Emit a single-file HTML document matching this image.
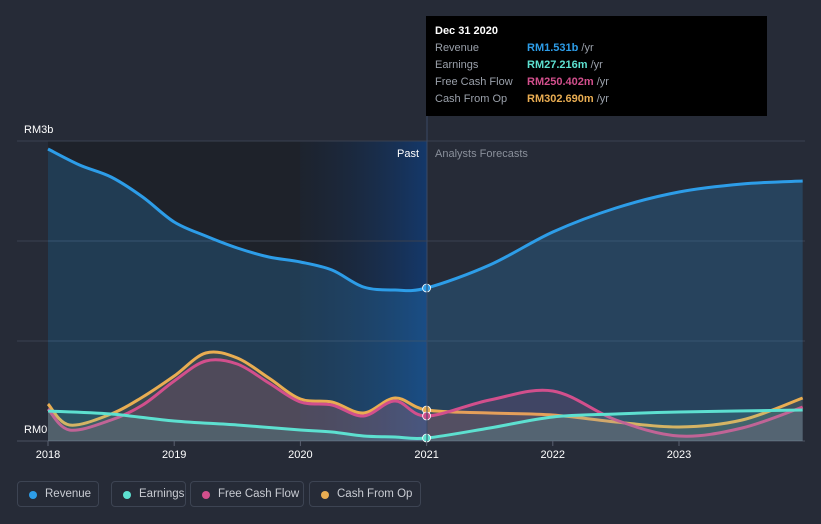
<!DOCTYPE html>
<html><head><meta charset="utf-8"><style>
body{margin:0;width:821px;height:524px;background:#262b37;font-family:"Liberation Sans",sans-serif;overflow:hidden;position:relative}
svg{position:absolute;left:0;top:0}
.leg{position:absolute;top:481px;height:26px;border:1px solid #3d4453;border-radius:4px;color:#c9ccd3;font-size:11.5px;line-height:25px;box-sizing:border-box;padding-left:27px;white-space:nowrap}
.leg i{position:absolute;left:11px;top:9px;width:8px;height:8px;border-radius:50%}
.tip{position:absolute;left:426px;top:16px;width:341px;height:100px;background:#000;color:#fff;font-size:11px}
.tip div{position:absolute;left:9px;white-space:nowrap;width:320px}
.tip span{position:absolute;left:92px;top:0;font-weight:bold;white-space:nowrap}
.tip em{font-style:normal;color:#9aa0aa;font-weight:normal}
</style></head><body>
<svg width="821" height="524" id="chart">
<defs>
<linearGradient id="pastg" x1="0" x2="1" y1="0" y2="0"><stop offset="0" stop-color="#1b2638" stop-opacity="0.3"/><stop offset="1" stop-color="#14386a"/></linearGradient>
</defs>
<rect x="48" y="141" width="379" height="300" fill="#1e222a"/>
<rect x="300" y="141" width="127" height="300" fill="url(#pastg)"/>
<g id="grid"></g>
<g id="series"></g>
<text x="24" y="133" fill="#fff" font-size="11">RM3b</text>
<text x="24" y="433" fill="#fff" font-size="11">RM0</text>
<text x="419" y="157" fill="#fff" font-size="11" text-anchor="end">Past</text>
<text x="435" y="157" fill="#8a909b" font-size="11">Analysts Forecasts</text>
<line x1="427" x2="427" y1="116" y2="441" stroke="#3a4a66" stroke-width="1"/>
<g id="xaxis"></g>
</svg>
<div class="tip">
<div style="top:9px;font-weight:bold">Dec 31 2020</div>
<div style="top:26px;color:#9aa0aa">Revenue<span style="color:#2d9de8">RM1.531b <em>/yr</em></span></div>
<div style="top:43px;color:#9aa0aa">Earnings<span style="color:#5de0d0">RM27.216m <em>/yr</em></span></div>
<div style="top:60px;color:#9aa0aa">Free Cash Flow<span style="color:#d24f8c">RM250.402m <em>/yr</em></span></div>
<div style="top:77px;color:#9aa0aa">Cash From Op<span style="color:#e9ad52">RM302.690m <em>/yr</em></span></div>
</div>
<div class="leg" style="left:17px;width:82px"><i style="background:#2d9de8"></i>Revenue</div>
<div class="leg" style="left:111px;width:75px"><i style="background:#5de0d0"></i>Earnings</div>
<div class="leg" style="left:190px;width:114px"><i style="background:#d24f8c"></i>Free Cash Flow</div>
<div class="leg" style="left:309px;width:112px"><i style="background:#e9ad52"></i>Cash From Op</div>
<script>
const xTicks=[2018,2019,2020,2021,2022,2023];
const yTicks=[0,1,2,3];
const revYears=[2018,2018.25,2018.5,2018.75,2019,2019.25,2019.5,2019.75,2020,2020.25,2020.5,2020.75,2021,2021.5,2022,2022.5,2023,2023.5,2023.98];
const revenue=[2.92,2.76,2.64,2.44,2.19,2.05,1.93,1.84,1.79,1.71,1.54,1.51,1.53,1.76,2.09,2.33,2.49,2.57,2.60];
const earnYears=[2018,2018.5,2019,2019.5,2020,2020.25,2020.5,2020.75,2021,2021.5,2022,2022.5,2023,2023.98];
const earnings=[0.30,0.27,0.20,0.16,0.11,0.09,0.05,0.04,0.03,0.13,0.24,0.27,0.29,0.31];
const cfYears=[2018,2018.17,2018.5,2018.75,2019,2019.25,2019.5,2019.75,2020,2020.25,2020.5,2020.75,2021,2021.5,2022,2022.5,2023,2023.5,2023.98];
const fcf=[0.32,0.11,0.21,0.36,0.60,0.80,0.77,0.58,0.39,0.36,0.25,0.40,0.25,0.41,0.50,0.21,0.05,0.13,0.34];
const cfo=[0.37,0.16,0.27,0.44,0.65,0.88,0.83,0.63,0.42,0.39,0.28,0.43,0.31,0.28,0.26,0.19,0.14,0.21,0.43];
const X=y=>48+(y-2018)*126.2, Y=v=>441-v*100;
const NS='http://www.w3.org/2000/svg';
function mk(t,a,p){const e=document.createElementNS(NS,t);for(const k in a)e.setAttribute(k,a[k]);p.appendChild(e);return e;}
const grid=document.getElementById('grid'),ser=document.getElementById('series'),xa=document.getElementById('xaxis');
yTicks.forEach(v=>{const l=mk('line',{x1:17,x2:805,y1:Y(v),y2:Y(v),stroke:v==0?'#4a5060':'#3a4150','stroke-width':1},grid);

});
xTicks.forEach(y=>{mk('line',{x1:X(y),x2:X(y),y1:441,y2:446,stroke:'#5a6070'},xa);
const t=mk('text',{x:X(y),y:458,fill:'#fff','font-size':11,'text-anchor':'middle'},xa);t.textContent=y;

});
function path(xs,vs){const p=xs.map((x,i)=>[X(x),Y(vs[i])]);let d='M'+p[0];for(let i=0;i<p.length-1;i++){const p0=p[i-1]||p[i],p1=p[i],p2=p[i+1],p3=p[i+2]||p2;
const c1=[p1[0]+(p2[0]-p0[0])/6,p1[1]+(p2[1]-p0[1])/6],c2=[p2[0]-(p3[0]-p1[0])/6,p2[1]-(p3[1]-p1[1])/6];d+='C'+c1+' '+c2+' '+p2;}return d;}
function series(xs,vs,col,fillOp,name){const d=path(xs,vs);
const f=mk('path',{d:d+`L${X(xs[xs.length-1])},441L${X(xs[0])},441Z`,fill:col,'fill-opacity':fillOp},ser);


const l=mk('path',{d,fill:'none',stroke:col,'stroke-width':3},ser);


const i=xs.indexOf(2021);const c=mk('circle',{cx:X(2021),cy:Y(vs[i]),r:4,fill:col,stroke:'#fff','stroke-width':0.8},ser);

}
series(revYears,revenue,'#2d9de8',0.22,'revenue');
series(cfYears,cfo,'#e9ad52',0.12,'cash-from-op');
series(cfYears,fcf,'#d24f8c',0.15,'free-cash-flow');
series(earnYears,earnings,'#5de0d0',0.15,'earnings');
</script>
</body></html>
